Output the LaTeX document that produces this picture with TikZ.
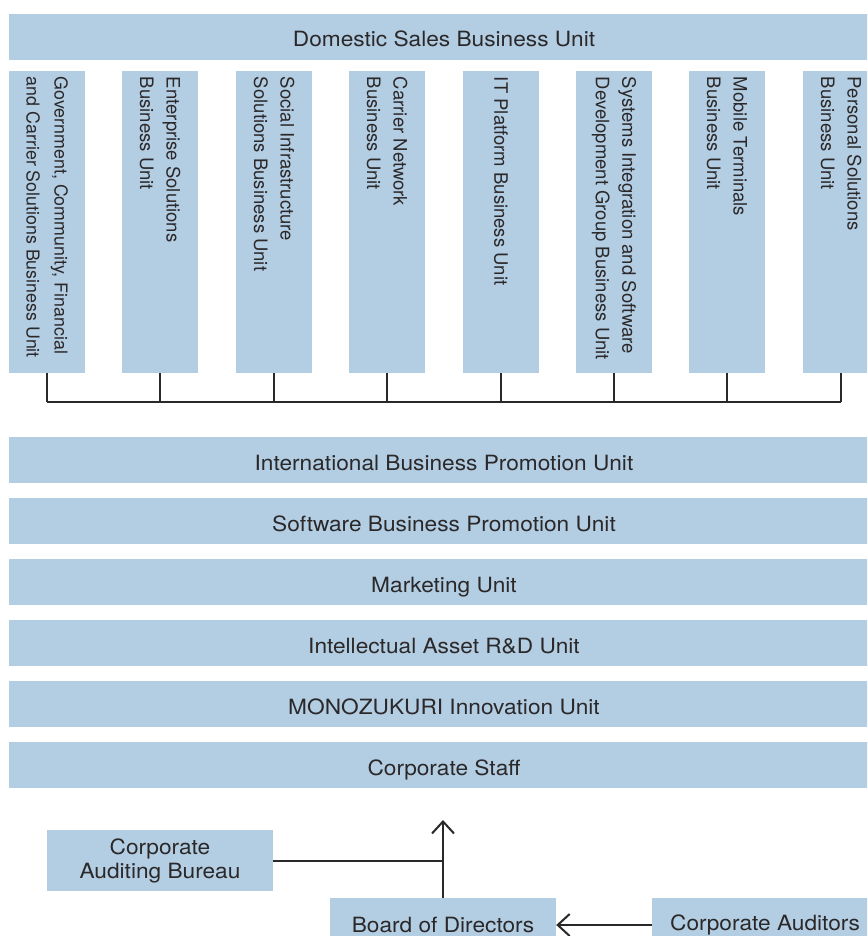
\documentclass[tikz,border=0pt]{standalone}
\usepackage{fontspec}
\setmainfont{TeX Gyre Heros}
\newfontfamily\widefont[FakeStretch=1.08]{TeX Gyre Heros}
\usetikzlibrary{arrows.meta}

\definecolor{unitblue}{HTML}{B3CDE3}
\definecolor{ink}{HTML}{2B2829}

\begin{document}
\begin{tikzpicture}[x=1pt, y=-1pt,
        bar/.style={fill=unitblue, text=ink, inner sep=0pt, minimum width=870pt, minimum height=46pt, text height=24pt, text depth=4pt, font=\widefont\fontsize{21}{24}\selectfont},
        vbox/.style={fill=unitblue, text=ink, rotate=-90, align=flush left, text width=290pt, inner xsep=6pt, inner ysep=0pt, minimum height=76pt, font=\fontsize{18.5}{26.5}\selectfont},
        box/.style={fill=unitblue, text=ink, inner sep=0pt, minimum width=226pt, align=center, font=\widefont\fontsize{21}{24}\selectfont},
        wire/.style={draw=ink, line width=2pt},
        link/.style={draw=ink, line width=2pt, -{Straight Barb[length=12pt, width=22pt, line width=2pt]}}]

    \clip (0,0) rectangle (867,936);

    % domestic sales and its business units
    \node[bar] (dom) at (444,37) {Domestic Sales Business Unit};

    \node[vbox, font=\fontsize{17.8}{28}\selectfont] (gov) at (47,222) {Government, Community, Financial\\and Carrier Solutions Business Unit};
    \node[vbox] (ent) at (160,222) {Enterprise Solutions\\Business Unit};
    \node[vbox] (soc) at (274,222) {Social Infrastructure\\Solutions Business Unit};
    \node[vbox] (car) at (387,222) {Carrier Network\\Business Unit};
    \node[vbox] (itp) at (501,222) {IT Platform Business Unit};
    \node[vbox] (sys) at (614,222) {Systems Integration and Software\\Development Group Business Unit};
    \node[vbox] (mob) at (727,222) {Mobile Terminals\\Business Unit};
    \node[vbox] (per) at (841,222) {Personal Solutions\\Business Unit};

    \coordinate (busL) at (47,402);
    \coordinate (busR) at (841,402);

    \draw[wire] (busL) -- (busR);
    \draw[wire] (gov.east) -- (gov.east |- busL);
    \draw[wire] (ent.east) -- (ent.east |- busL);
    \draw[wire] (soc.east) -- (soc.east |- busL);
    \draw[wire] (car.east) -- (car.east |- busL);
    \draw[wire] (itp.east) -- (itp.east |- busL);
    \draw[wire] (sys.east) -- (sys.east |- busL);
    \draw[wire] (mob.east) -- (mob.east |- busL);
    \draw[wire] (per.east) -- (per.east |- busL);

    % promotion units and staff
    \node[bar] (intl) at (444,460) {International Business Promotion Unit};
    \node[bar] (soft) at (444,521) {Software Business Promotion Unit};
    \node[bar] (mkt) at (444,582) {Marketing Unit};
    \node[bar] (ip) at (444,643) {Intellectual Asset R\&D Unit};
    \node[bar] (mono) at (444,704) {MONOZUKURI Innovation Unit};
    \node[bar] (staff) at (444,765) {Corporate Staff};

    % board and auditors
    \node[box, minimum height=61pt] (audit) at (160,860.5) {Corporate\\Auditing Bureau};
    \node[box, minimum height=54pt] (board) at (443,925) {Board of Directors};
    \node[box, minimum height=54pt] (cauditors) at (765,925) {Corporate Auditors};

    \coordinate (top) at (443,820);

    \path[link] (board.north) -- (top);
    \path[wire] (audit.east) -- (audit.east -| board.north);
    \path[link] (cauditors.west) -- (board.east);
\end{tikzpicture}
\end{document}
